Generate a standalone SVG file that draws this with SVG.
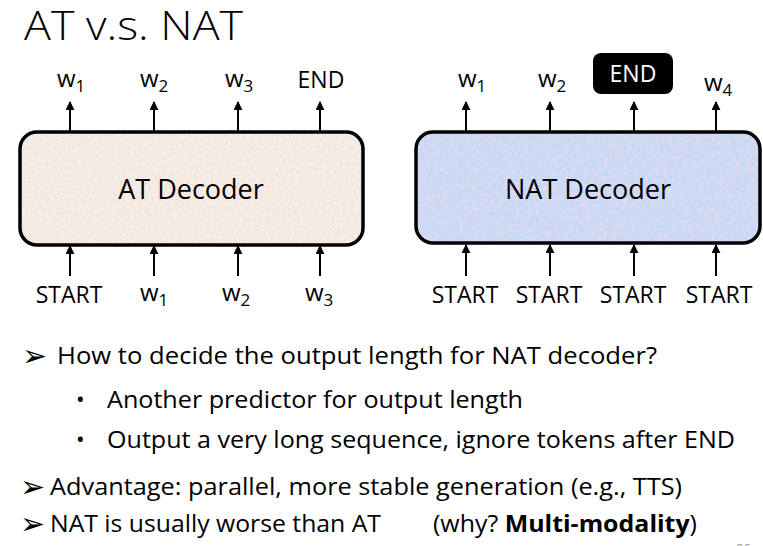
<svg xmlns="http://www.w3.org/2000/svg" width="763" height="546" viewBox="0 0 763 546">
<style>
text{font-family:"Open Sans","Noto Sans","Liberation Sans",sans-serif;fill:#000}
.lbl{font-size:23px}
.w{font-size:24px}
.sub{font-size:17px}
.dec{font-size:27px}
.body{font-size:23px}
.box{stroke:#000;stroke-width:3.5}
.ar{stroke:#000;stroke-width:2;fill:none;marker-end:url(#ah)}
.dg{font-family:"DejaVu Sans",sans-serif;font-size:30px}
</style>
<defs>
<marker id="ah" viewBox="0 0 10 10" refX="9" refY="5" markerWidth="4.5" markerHeight="4.5" orient="auto" markerUnits="strokeWidth">
<path d="M0,0 L10,5 L0,10 z" fill="#000"/>
</marker>
<filter id="noiseA" x="0" y="0" width="100%" height="100%">
<feTurbulence type="fractalNoise" baseFrequency="0.35" numOctaves="3" seed="3" result="n"/>
<feColorMatrix in="n" type="matrix" values="0 0 0 0 1  0 0 0 0 1  0 0 0 0 1  0 0 0 -1.6 1.1" result="c"/>
<feComposite in="c" in2="SourceGraphic" operator="in"/>
</filter>
<filter id="noiseB" x="0" y="0" width="100%" height="100%">
<feTurbulence type="fractalNoise" baseFrequency="0.25" numOctaves="3" seed="7" result="n"/>
<feColorMatrix in="n" type="matrix" values="0 0 0 0 0.92  0 0 0 0 0.7  0 0 0 0 0.9  0 0 0 -2.2 1.3" result="c"/>
<feComposite in="c" in2="SourceGraphic" operator="in"/>
</filter>
</defs>
<rect width="763" height="546" fill="#fff"/>
<g id="title">
<text x="24" y="40" style="font-size:40px;font-weight:300" textLength="219" lengthAdjust="spacingAndGlyphs">AT v.s. NAT</text>
</g>
<g id="at-decoder">
<rect x="20" y="132" width="343" height="113" rx="17" fill="#f3e5db"/>
<rect x="20" y="132" width="343" height="113" rx="17" fill="#f3e5db" filter="url(#noiseA)" opacity="0.6"/>
<rect x="20" y="132" width="343" height="113" rx="17" fill="none" class="box"/>
<text x="191" y="199" class="dec" text-anchor="middle">AT Decoder</text>
</g>
<g id="nat-decoder">
<rect x="416" y="132" width="344" height="111" rx="17" fill="#c8d9f3"/>
<rect x="416" y="132" width="344" height="111" rx="17" fill="#c8d9f3" filter="url(#noiseB)" opacity="0.7"/>
<rect x="416" y="132" width="344" height="111" rx="17" fill="none" class="box"/>
<text x="588" y="199" class="dec" text-anchor="middle">NAT Decoder</text>
</g>
<g id="at-outputs">
<text x="57" y="87" class="w">w<tspan class="sub" dy="5">1</tspan></text>
<text x="140" y="87" class="w">w<tspan class="sub" dy="5">2</tspan></text>
<text x="225" y="87" class="w">w<tspan class="sub" dy="5">3</tspan></text>
<text x="321" y="88" class="lbl" text-anchor="middle">END</text>
</g>
<g id="at-inputs">
<text x="69" y="303" class="lbl" text-anchor="middle">START</text>
<text x="140" y="301" class="w">w<tspan class="sub" dy="5">1</tspan></text>
<text x="222" y="301" class="w">w<tspan class="sub" dy="5">2</tspan></text>
<text x="305" y="301" class="w">w<tspan class="sub" dy="5">3</tspan></text>
</g>
<g id="nat-outputs">
<text x="458" y="87" class="w">w<tspan class="sub" dy="5">1</tspan></text>
<text x="538" y="87" class="w">w<tspan class="sub" dy="5">2</tspan></text>
<g id="nat-end">
<rect x="593" y="53" width="80" height="41" rx="8" fill="#000"/>
<text x="633" y="82" class="lbl" text-anchor="middle" style="fill:#fff">END</text>
</g>
<text x="704" y="91" class="w">w<tspan class="sub" dy="5">4</tspan></text>
</g>
<g id="nat-inputs">
<text x="465" y="303" class="lbl" text-anchor="middle">START</text>
<text x="549" y="303" class="lbl" text-anchor="middle">START</text>
<text x="633" y="303" class="lbl" text-anchor="middle">START</text>
<text x="719" y="303" class="lbl" text-anchor="middle">START</text>
</g>
<g id="connectors">
<line x1="70" y1="131" x2="70" y2="102" class="ar"/>
<line x1="154" y1="131" x2="154" y2="102" class="ar"/>
<line x1="238" y1="131" x2="238" y2="102" class="ar"/>
<line x1="320" y1="131" x2="320" y2="102" class="ar"/>
<line x1="70" y1="276" x2="70" y2="246" class="ar"/>
<line x1="154" y1="276" x2="154" y2="246" class="ar"/>
<line x1="238" y1="276" x2="238" y2="246" class="ar"/>
<line x1="320" y1="276" x2="320" y2="246" class="ar"/>
<line x1="466" y1="131" x2="466" y2="102" class="ar"/>
<line x1="550" y1="131" x2="550" y2="102" class="ar"/>
<line x1="634" y1="131" x2="634" y2="102" class="ar"/>
<line x1="716" y1="131" x2="716" y2="102" class="ar"/>
<line x1="466" y1="276" x2="466" y2="245" class="ar"/>
<line x1="550" y1="276" x2="550" y2="245" class="ar"/>
<line x1="634" y1="276" x2="634" y2="245" class="ar"/>
<line x1="716" y1="276" x2="716" y2="245" class="ar"/>
</g>
<g id="bullets">
<text x="22" y="366" class="dg">➢</text>
<text x="57" y="364" class="body" textLength="600" lengthAdjust="spacingAndGlyphs">How to decide the output length for NAT decoder?</text>
<text x="76" y="408" class="body">•</text>
<text x="107" y="408" class="body" textLength="416" lengthAdjust="spacingAndGlyphs">Another predictor for output length</text>
<text x="76" y="448" class="body">•</text>
<text x="107" y="448" class="body" textLength="628" lengthAdjust="spacingAndGlyphs">Output a very long sequence, ignore tokens after END</text>
<text x="20" y="497" class="dg">➢</text>
<text x="50" y="495" class="body" textLength="632" lengthAdjust="spacingAndGlyphs">Advantage: parallel, more stable generation (e.g., TTS)</text>
<text x="20" y="534" class="dg">➢</text>
<text x="50" y="532" class="body" textLength="331" lengthAdjust="spacingAndGlyphs">NAT is usually worse than AT</text>
<text x="433" y="532" class="body" textLength="264" lengthAdjust="spacingAndGlyphs">(why? <tspan font-weight="bold">Multi-modality</tspan>)</text>
<text x="736" y="553" style="font-size:13px;fill:#999">26</text>
</g>
</svg>
